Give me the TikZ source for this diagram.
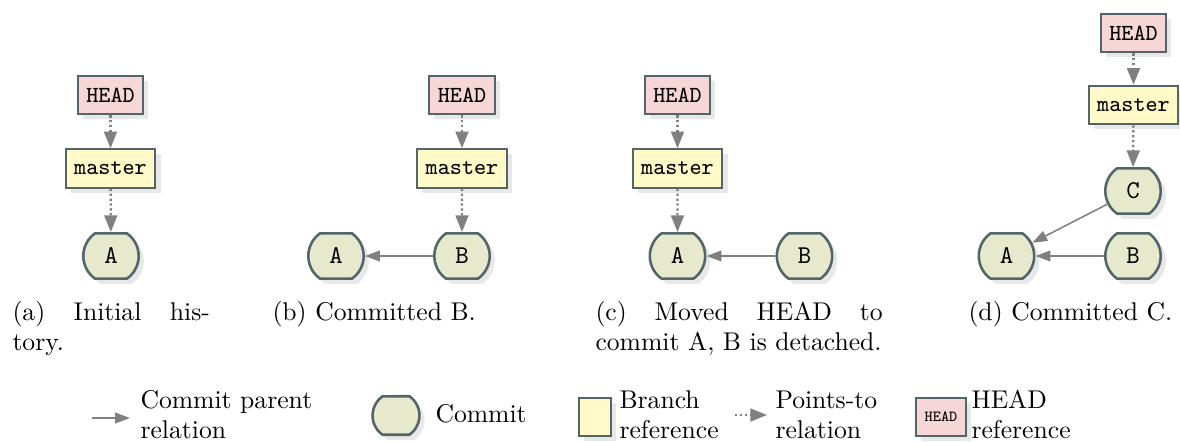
\documentclass[tikz,border=0pt]{standalone}
\usetikzlibrary{shapes.misc,shadows,arrows.meta}

\definecolor{commitFill}{RGB}{230,233,204}
\definecolor{nodeBorder}{RGB}{82,101,105}
\definecolor{branchFill}{RGB}{255,250,200}
\definecolor{headFill}{RGB}{246,214,214}
\definecolor{shadowGray}{RGB}{232,232,232}
\definecolor{arrowGray}{RGB}{128,128,128}

\begin{document}
\begin{tikzpicture}
[x=0.39pt,y=-0.39pt,%
  shadowDecorate/.style={general shadow={fill=shadowGray,shadow xshift=2pt,shadow yshift=-2pt}},%
  commitDecorate/.style={shape=rounded rectangle,rounded rectangle arc length=110,draw=nodeBorder,
    line width=1pt,fill=commitFill,minimum height=17.7pt,text width=11pt,align=center,
    font=\ttfamily,shadowDecorate},%
  refDecorate/.style={shape=rectangle,draw=nodeBorder,line width=0.8pt,minimum height=15pt,
    font=\small\ttfamily,shadowDecorate},%
  branchDecorate/.style={refDecorate,fill=branchFill},%
  headDecorate/.style={refDecorate,fill=headFill},%
  parentDecorate/.style={draw=arrowGray,line width=0.6pt,-{Triangle[length=5.8pt,width=4.2pt]}},%
  pointsDecorate/.style={draw=arrowGray,line width=0.9pt,densely dotted,-{Triangle[length=6.5pt,width=5pt]}},%
  captionDecorate/.style={anchor=base west,inner sep=0pt,align=left}]
\useasboundingbox (0,0) rectangle (1180,441);
%% HEAD and branch references
\foreach \nodename/\x/\y/\kind/\text in {
  aHead/110.5/95/head/HEAD, aMaster/110.5/168.5/branch/master,
  bHead/462/95/head/HEAD, bMaster/462/168.5/branch/master,
  cHead/677.5/95/head/HEAD, cMaster/677.5/168.5/branch/master,
  dHead/1133.5/33/head/HEAD, dMaster/1133.5/105/branch/master}
{
  \node (\nodename) at (\x,\y) [\kind Decorate] {\text};
}
%% commits
\foreach \nodename/\x/\y/\text in {
  aA/111/256/A,
  bA/336/256/A, bB/462/256/B,
  cA/677.5/256/A, cB/804.5/256/B,
  dA/1006.5/256/A, dB/1133/256/B, dC/1133/191/C}
{
  \node (\nodename) at (\x,\y) [commitDecorate] {\text};
}
%% points-to relations
\path
\foreach \startnode/\endnode in {
  aHead/aMaster, aMaster/aA, bHead/bMaster, bMaster/bB,
  cHead/cMaster, cMaster/cA, dHead/dMaster, dMaster/dC}
{
  (\startnode) edge[pointsDecorate] (\endnode)
};
%% parent relations
\path
\foreach \startnode/\endnode in {
  bB/bA, cB/cA, dB/dA, dC/dA}
{
  (\startnode) edge[parentDecorate] (\endnode)
};
%% captions
\node (capA) at (12,320) [captionDecorate,text width=77pt] {(a)\hfill Initial\hfill his-\\tory.};
\node (capB) at (272,320) [captionDecorate,text width=80pt] {(b) Committed B.};
\node (capC) at (595,320) [captionDecorate,text width=112pt] {(c)\hfill Moved\hfill HEAD\hfill to\\commit A, B is detached.};
\node (capD) at (968,320) [captionDecorate,text width=80pt] {(d) Committed C.};
%% legend
\coordinate (parentKeyL) at (92,418);
\coordinate (parentKeyR) at (130,418);
\draw[parentDecorate] (parentKeyL) -- (parentKeyR);
\node (parentKeyText) at (140,408) [captionDecorate,text width=72pt] {Commit parent\\relation};
\node (commitKey) at (396,415.5) [commitDecorate,minimum height=15pt,text width=9pt] {};
\node (commitKeyText) at (435,422) [captionDecorate,text width=40pt] {Commit};
\node (branchKey) at (595,417) [branchDecorate,minimum width=12.5pt,minimum height=14.8pt] {};
\node (branchKeyText) at (619,408) [captionDecorate,text width=44pt] {Branch\\reference};
\coordinate (pointsKeyL) at (735,415);
\coordinate (pointsKeyR) at (767,415);
\draw[pointsDecorate] (pointsKeyL) -- (pointsKeyR);
\node (pointsKeyText) at (775,408) [captionDecorate,text width=44pt] {Points-to\\relation};
\node (headKey) at (941,417) [headDecorate,font=\fontsize{6}{7}\selectfont\ttfamily] {HEAD};
\node (headKeyText) at (971,408) [captionDecorate,text width=44pt] {HEAD\\reference};
\end{tikzpicture}
\end{document}
